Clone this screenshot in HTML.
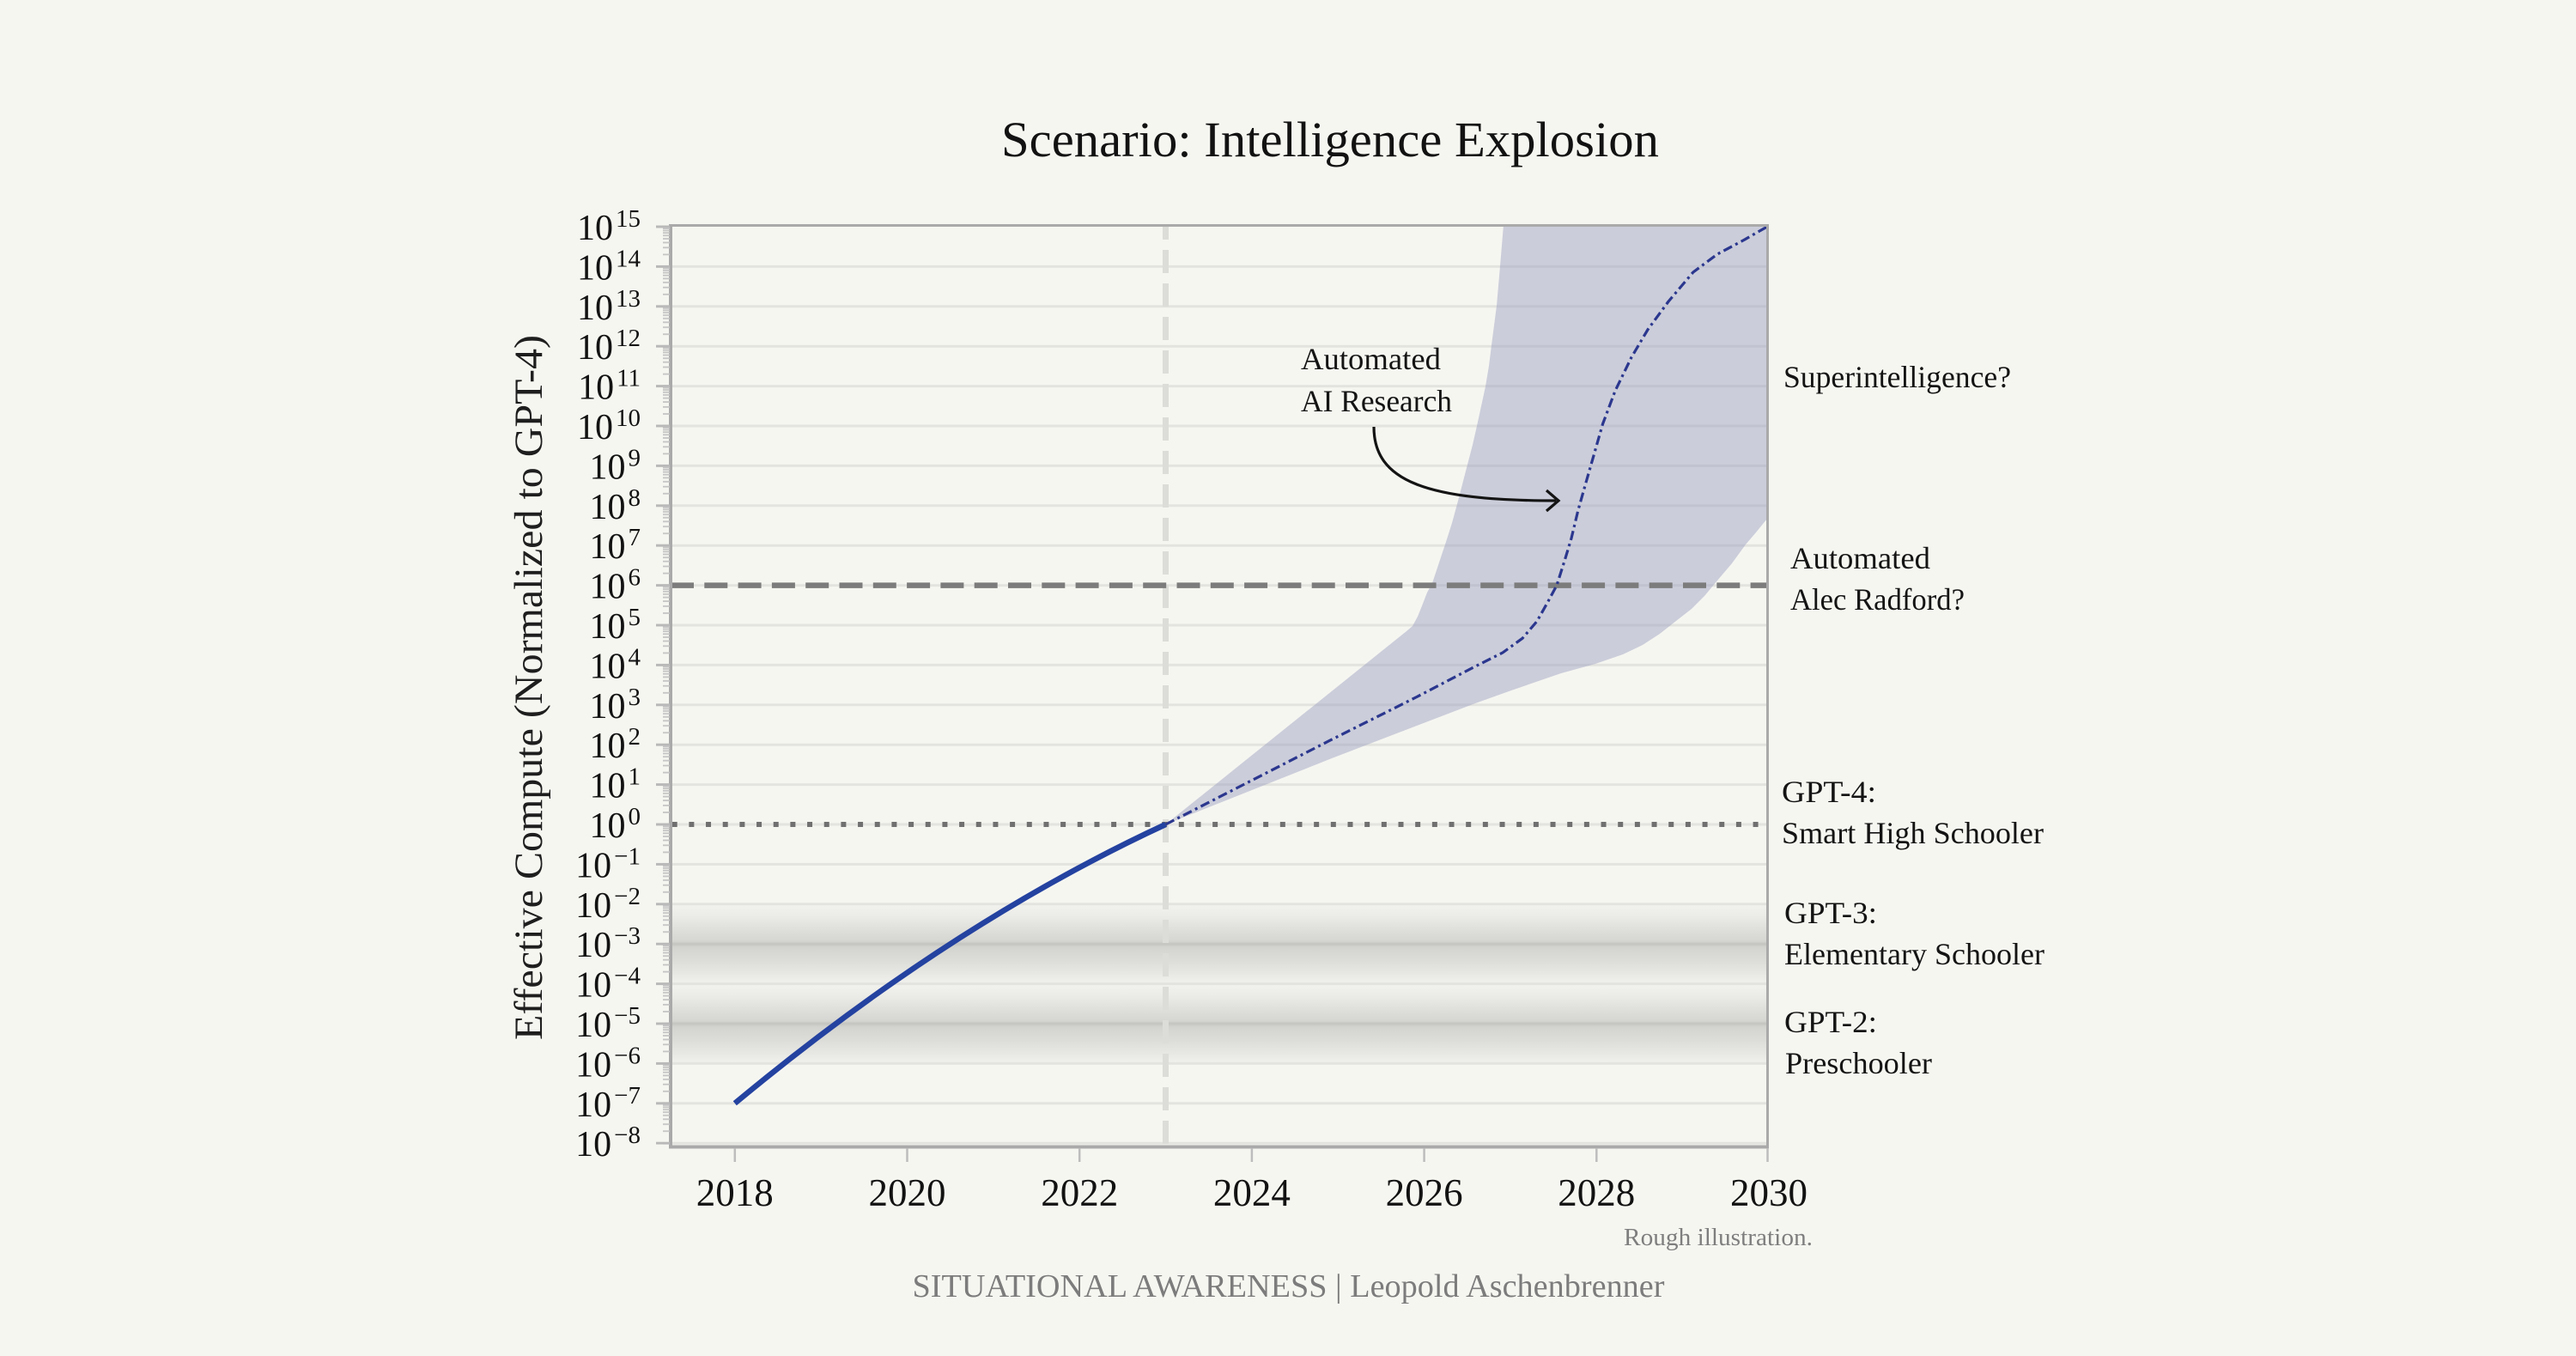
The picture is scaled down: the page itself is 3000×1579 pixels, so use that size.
<!DOCTYPE html>
<html>
<head>
<meta charset="utf-8">
<style>
html,body{margin:0;padding:0;background:#f6f6f1;}
svg{display:block;}
</style>
</head>
<body>
<svg xmlns="http://www.w3.org/2000/svg" width="3000" height="1579" viewBox="0 0 3000 1579" font-family="'Liberation Serif', 'DejaVu Serif', serif">
  <defs>
    <clipPath id="plot">
      <rect x="781" y="262" width="1277" height="1073"/>
    </clipPath>
    <linearGradient id="band" x1="0" y1="0" x2="0" y2="1">
      <stop offset="0" stop-color="#f2f2ee"/>
      <stop offset="0.15" stop-color="#ebebe7"/>
      <stop offset="0.3" stop-color="#e0e0dc"/>
      <stop offset="0.45" stop-color="#d6d6d2"/>
      <stop offset="0.5" stop-color="#cbcbc7"/>
      <stop offset="0.55" stop-color="#d4d4d0"/>
      <stop offset="0.7" stop-color="#dcdcd8"/>
      <stop offset="0.85" stop-color="#e6e6e2"/>
      <stop offset="1" stop-color="#f1f1ed"/>
    </linearGradient>
    <pattern id="yt" patternUnits="userSpaceOnUse" x="760" y="264" width="22" height="46.4">
      <rect x="4" y="0" width="18" height="1.5" fill="#b9b9b9"/>
      <rect x="4" y="44.9" width="18" height="1.5" fill="#b9b9b9"/>
      <rect x="12" y="1.2" width="9" height="1.8" fill="#c4c4c4"/>
      <rect x="12" y="3.6" width="9" height="1.8" fill="#c4c4c4"/>
      <rect x="12" y="6.3" width="9" height="1.8" fill="#c4c4c4"/>
      <rect x="12" y="9.4" width="9" height="1.8" fill="#c4c4c4"/>
      <rect x="12" y="13.1" width="9" height="1.8" fill="#c4c4c4"/>
      <rect x="12" y="17.6" width="9" height="1.8" fill="#c4c4c4"/>
      <rect x="12" y="23.4" width="9" height="1.8" fill="#c4c4c4"/>
      <rect x="12" y="31.5" width="9" height="1.8" fill="#c4c4c4"/>
    </pattern>
  </defs>

  <rect x="0" y="0" width="3000" height="1579" fill="#f6f6f1"/>

  <!-- Title -->
  <text x="1166" y="182" font-size="58" fill="#121212" textLength="766" lengthAdjust="spacingAndGlyphs">Scenario: Intelligence Explosion</text>

  <!-- GPT bands -->
  <rect x="781" y="1053" width="1277" height="93" fill="url(#band)"/>
  <rect x="781" y="1146" width="1277" height="93" fill="url(#band)"/>

  <!-- Gridlines -->
  <g stroke="#e3e3df" stroke-width="3">
    <line x1="781" x2="2058" y1="310.4" y2="310.4"/>
    <line x1="781" x2="2058" y1="356.8" y2="356.8"/>
    <line x1="781" x2="2058" y1="403.2" y2="403.2"/>
    <line x1="781" x2="2058" y1="449.6" y2="449.6"/>
    <line x1="781" x2="2058" y1="496" y2="496"/>
    <line x1="781" x2="2058" y1="542.4" y2="542.4"/>
    <line x1="781" x2="2058" y1="588.8" y2="588.8"/>
    <line x1="781" x2="2058" y1="635.2" y2="635.2"/>
    <line x1="781" x2="2058" y1="681.6" y2="681.6"/>
    <line x1="781" x2="2058" y1="728" y2="728"/>
    <line x1="781" x2="2058" y1="774.4" y2="774.4"/>
    <line x1="781" x2="2058" y1="820.8" y2="820.8"/>
    <line x1="781" x2="2058" y1="867.2" y2="867.2"/>
    <line x1="781" x2="2058" y1="913.6" y2="913.6"/>
    <line x1="781" x2="2058" y1="960" y2="960"/>
    <line x1="781" x2="2058" y1="1006.4" y2="1006.4"/>
    <line x1="781" x2="2058" y1="1052.8" y2="1052.8"/>
    <line x1="781" x2="2058" y1="1145.6" y2="1145.6"/>
    <line x1="781" x2="2058" y1="1238.4" y2="1238.4"/>
    <line x1="781" x2="2058" y1="1284.8" y2="1284.8"/>
    <line x1="781" x2="2058" y1="1331.2" y2="1331.2"/>
  </g>
  <g stroke="#c6c6c2" stroke-width="3">
    <line x1="781" x2="2058" y1="1099.2" y2="1099.2"/>
    <line x1="781" x2="2058" y1="1192" y2="1192"/>
  </g>

  <!-- Vertical dashed line at 2023 -->
  <line x1="1357.5" x2="1357.5" y1="262" y2="1335" stroke="#dcdcd8" stroke-width="7" stroke-dasharray="27 12" stroke-dashoffset="10"/>

  <!-- Shaded uncertainty band -->
  <g clip-path="url(#plot)">
    <path fill="#9fa3c4" fill-opacity="0.5" d="M1357.5,960 L1638,735 L1645,729 L1651,718 L1657,703 L1662,690 L1668,679 L1676,655 L1684,631 L1691,609 L1697,587 L1703,564 L1709,541 L1715,518 L1720,496 L1725,473 L1730,450 L1734,426 L1737,402 L1740,379 L1743,356 L1745,333 L1747,310 L1749,286 L1751,262 L2058,262 L2058,604 L2045,620 L2033,634 L2017,656 L2000,676 L1985,694 L1970,709 L1952,723 L1933,738 L1913,751 L1890,762 L1858,773 L1818,784 L1760,804 L1716.7,819.5 L1550,883.4 Z"/>
  </g>

  <!-- 10^6 dashed line -->
  <line x1="781" x2="2058" y1="681.6" y2="681.6" stroke="#7c7c7c" stroke-width="6.5" stroke-dasharray="27 12.3"/>

  <!-- 10^0 dotted line -->
  <line x1="782.7" x2="2056" y1="960" y2="960" stroke="#707070" stroke-width="6" stroke-dasharray="6 13.67"/>

  <!-- Historical solid line -->
  <path d="M855.8,1284.8 Q1106.7,1076 1357.5,960" fill="none" stroke="#2442a0" stroke-width="6.5"/>

  <!-- Projection dash-dot line -->
  <polyline fill="none" stroke="#2b378e" stroke-width="3.2" stroke-linejoin="round" stroke-dasharray="11 4.5 3 4.5" points="1357.5,960 1550,861.6 1650,811.5 1716.7,776.7 1750,760 1773,743.3 1790,723.4 1803,700.2 1813,681.6 1823,650 1830,626.8 1837.9,594 1847.4,560.5 1857,527 1866.6,493.5 1881,455.2 1900,416 1919.2,383.5 1943.1,351 1971.8,317 2000,296 2030,280 2058,264"/>

  <!-- Arrow -->
  <path d="M1600,497 C1600,560 1660,583 1812,583" fill="none" stroke="#141414" stroke-width="3.2"/>
  <path d="M1801,571 L1815,583 L1801,595" fill="none" stroke="#141414" stroke-width="3.2" stroke-linejoin="miter"/>
  <text x="1515" y="430" font-size="36" fill="#141414" textLength="163" lengthAdjust="spacingAndGlyphs">Automated</text>
  <text x="1515" y="479" font-size="36" fill="#141414" textLength="176" lengthAdjust="spacingAndGlyphs">AI Research</text>

  <!-- Spines -->
  <g stroke="#aaaaaa">
    <line x1="779" x2="2059.5" y1="262.5" y2="262.5" stroke-width="3"/>
    <line x1="2058.5" x2="2058.5" y1="261" y2="1337" stroke-width="3"/>
    <line x1="780" x2="2060" y1="1335.5" y2="1335.5" stroke-width="4"/>
    <line x1="781" x2="781" y1="261" y2="1337.5" stroke-width="4"/>
  </g>

  <!-- Y ticks -->
  <rect x="760" y="262.5" width="20" height="1070.2" fill="url(#yt)"/>

  <!-- X ticks -->
  <g stroke="#bdbdbd" stroke-width="2.5">
    <line x1="855.8" x2="855.8" y1="1337" y2="1353"/>
    <line x1="1056.5" x2="1056.5" y1="1337" y2="1353"/>
    <line x1="1257.2" x2="1257.2" y1="1337" y2="1353"/>
    <line x1="1457.9" x2="1457.9" y1="1337" y2="1353"/>
    <line x1="1658.6" x2="1658.6" y1="1337" y2="1353"/>
    <line x1="1859.3" x2="1859.3" y1="1337" y2="1353"/>
    <line x1="2058.5" x2="2058.5" y1="1337" y2="1353"/>
  </g>

  <!-- X labels -->
  <g font-size="45" fill="#121212" text-anchor="middle">
    <text x="855.8" y="1404" textLength="90" lengthAdjust="spacingAndGlyphs">2018</text>
    <text x="1056.5" y="1404" textLength="90" lengthAdjust="spacingAndGlyphs">2020</text>
    <text x="1257.2" y="1404" textLength="90" lengthAdjust="spacingAndGlyphs">2022</text>
    <text x="1457.9" y="1404" textLength="90" lengthAdjust="spacingAndGlyphs">2024</text>
    <text x="1658.6" y="1404" textLength="90" lengthAdjust="spacingAndGlyphs">2026</text>
    <text x="1859.3" y="1404" textLength="90" lengthAdjust="spacingAndGlyphs">2028</text>
    <text x="2060" y="1404" textLength="90" lengthAdjust="spacingAndGlyphs">2030</text>
  </g>

  <!-- Y labels -->
  <g font-size="42" fill="#121212" text-anchor="end">
    <text x="746" y="279">10<tspan font-size="29" dx="3" dy="-15">15</tspan></text>
    <text x="746" y="325.4">10<tspan font-size="29" dx="3" dy="-15">14</tspan></text>
    <text x="746" y="371.8">10<tspan font-size="29" dx="3" dy="-15">13</tspan></text>
    <text x="746" y="418.2">10<tspan font-size="29" dx="3" dy="-15">12</tspan></text>
    <text x="746" y="464.6">10<tspan font-size="29" dx="3" dy="-15">11</tspan></text>
    <text x="746" y="511">10<tspan font-size="29" dx="3" dy="-15">10</tspan></text>
    <text x="746" y="557.4">10<tspan font-size="29" dx="3" dy="-15">9</tspan></text>
    <text x="746" y="603.8">10<tspan font-size="29" dx="3" dy="-15">8</tspan></text>
    <text x="746" y="650.2">10<tspan font-size="29" dx="3" dy="-15">7</tspan></text>
    <text x="746" y="696.6">10<tspan font-size="29" dx="3" dy="-15">6</tspan></text>
    <text x="746" y="743">10<tspan font-size="29" dx="3" dy="-15">5</tspan></text>
    <text x="746" y="789.4">10<tspan font-size="29" dx="3" dy="-15">4</tspan></text>
    <text x="746" y="835.8">10<tspan font-size="29" dx="3" dy="-15">3</tspan></text>
    <text x="746" y="882.2">10<tspan font-size="29" dx="3" dy="-15">2</tspan></text>
    <text x="746" y="928.6">10<tspan font-size="29" dx="3" dy="-15">1</tspan></text>
    <text x="746" y="975">10<tspan font-size="29" dx="3" dy="-15">0</tspan></text>
    <text x="746" y="1021.4">10<tspan font-size="29" dx="3" dy="-15">−1</tspan></text>
    <text x="746" y="1067.8">10<tspan font-size="29" dx="3" dy="-15">−2</tspan></text>
    <text x="746" y="1114.2">10<tspan font-size="29" dx="3" dy="-15">−3</tspan></text>
    <text x="746" y="1160.6">10<tspan font-size="29" dx="3" dy="-15">−4</tspan></text>
    <text x="746" y="1207">10<tspan font-size="29" dx="3" dy="-15">−5</tspan></text>
    <text x="746" y="1253.4">10<tspan font-size="29" dx="3" dy="-15">−6</tspan></text>
    <text x="746" y="1299.8">10<tspan font-size="29" dx="3" dy="-15">−7</tspan></text>
    <text x="746" y="1346.2">10<tspan font-size="29" dx="3" dy="-15">−8</tspan></text>
  </g>

  <!-- Y axis title -->
  <text transform="translate(631,800.5) rotate(-90)" text-anchor="middle" font-size="47" fill="#1e1e1e" textLength="821" lengthAdjust="spacingAndGlyphs">Effective Compute (Normalized to GPT-4)</text>

  <!-- Right annotations -->
  <g font-size="36" fill="#141414">
    <text x="2077" y="451" textLength="265" lengthAdjust="spacingAndGlyphs">Superintelligence?</text>
    <text x="2085" y="662" textLength="163" lengthAdjust="spacingAndGlyphs">Automated</text>
    <text x="2085" y="710" textLength="203" lengthAdjust="spacingAndGlyphs">Alec Radford?</text>
    <text x="2075" y="934" textLength="110" lengthAdjust="spacingAndGlyphs">GPT-4:</text>
    <text x="2075" y="982" textLength="305" lengthAdjust="spacingAndGlyphs">Smart High Schooler</text>
    <text x="2078" y="1075" textLength="108" lengthAdjust="spacingAndGlyphs">GPT-3:</text>
    <text x="2078" y="1123" textLength="303" lengthAdjust="spacingAndGlyphs">Elementary Schooler</text>
    <text x="2078" y="1202" textLength="108" lengthAdjust="spacingAndGlyphs">GPT-2:</text>
    <text x="2079" y="1250" textLength="171" lengthAdjust="spacingAndGlyphs">Preschooler</text>
  </g>

  <!-- Notes / footer -->
  <text x="1891" y="1450" font-size="28" fill="#7e7e7e" textLength="220" lengthAdjust="spacingAndGlyphs">Rough illustration.</text>
  <text x="1062.5" y="1510" font-size="38" fill="#7c7c7c" textLength="876" lengthAdjust="spacingAndGlyphs">SITUATIONAL AWARENESS | Leopold Aschenbrenner</text>
</svg>
</body>
</html>
